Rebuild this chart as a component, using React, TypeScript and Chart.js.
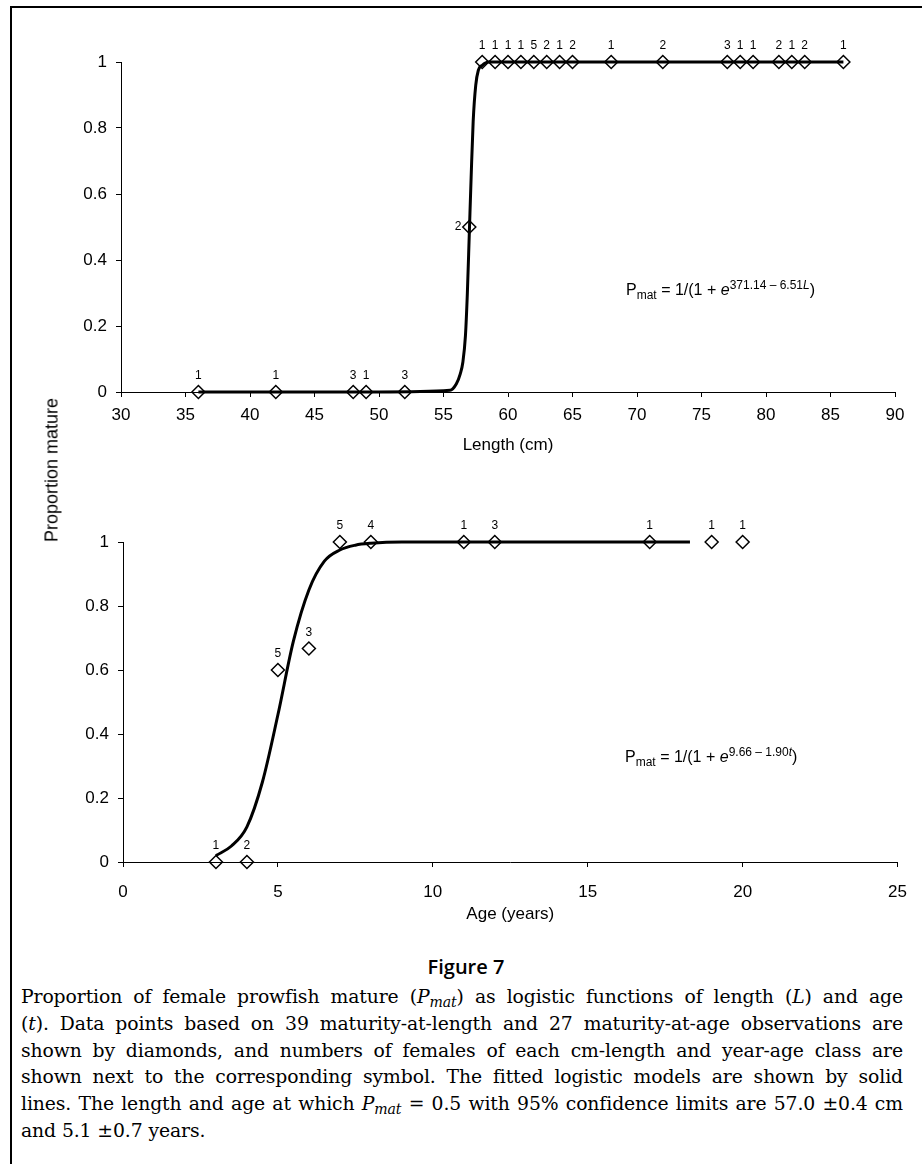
import React, { useEffect, useRef } from "react";
import { Chart, registerables } from "chart.js";

Chart.register(...registerables);

// ---------- Data ----------
// Maturity-at-length observations (cm), proportion mature, number of females
const lengthObsX = [36, 42, 48, 49, 52, 57, 58, 59, 60, 61, 62, 63, 64, 65, 68, 72, 77, 78, 79, 81, 82, 83, 86];
const lengthObsY = [0, 0, 0, 0, 0, 0.5, 1, 1, 1, 1, 1, 1, 1, 1, 1, 1, 1, 1, 1, 1, 1, 1, 1];
const lengthObsN = [1, 1, 3, 1, 3, 2, 1, 1, 1, 1, 5, 2, 1, 2, 1, 2, 3, 1, 1, 2, 1, 2, 1];
// Label side for each length observation ("top" or "left")
const lengthLabelSide = ["top", "top", "top", "top", "top", "left", "top", "top", "top", "top", "top", "top", "top", "top", "top", "top", "top", "top", "top", "top", "top", "top", "top"];

// Fitted logistic curve vs length
const lengthCurveX = [36, 50, 55.5, 56, 56.3, 56.5, 56.7, 56.85, 57, 57.15, 57.3, 57.5, 57.7, 58, 58.5, 86];
const lengthCurveY = [0, 0, 0.005, 0.025, 0.055, 0.09, 0.17, 0.3, 0.48, 0.66, 0.82, 0.93, 0.975, 0.99, 1, 1];

// Maturity-at-age observations (years)
const ageObsX = [3, 4, 5, 6, 7, 8, 11, 12, 17, 19, 20];
const ageObsY = [0, 0, 0.6, 0.667, 1, 1, 1, 1, 1, 1, 1];
const ageObsN = [1, 2, 5, 3, 5, 4, 1, 3, 1, 1, 1];
const ageLabelSide = ["top", "top", "top", "top", "top", "top", "top", "top", "top", "top", "top"];

// Fitted logistic curve vs age
const ageCurveX = [3, 3.5, 4, 4.5, 5, 5.5, 6, 6.5, 7, 7.5, 8, 9, 18.3];
const ageCurveY = [0.02, 0.05, 0.11, 0.25, 0.46, 0.69, 0.85, 0.94, 0.975, 0.99, 0.996, 1, 1];

// Axis settings
const lengthTicks = { min: 30, max: 90, step: 5 };
const ageTicks = { min: 0, max: 25, step: 5 };
const propTicks = { min: 0, max: 1, step: 0.2 };

const captionLines = [
  "Proportion of female prowfish mature (|P_mat|) as logistic functions of length (|L|) and age",
  "(|t|). Data points based on 39 maturity-at-length and 27 maturity-at-age observations are",
  "shown by diamonds, and numbers of females of each cm-length and year-age class are",
  "shown next to the corresponding symbol. The fitted logistic models are shown by solid",
  "lines. The length and age at which |P_mat| = 0.5 with 95% confidence limits are 57.0 ±0.4 cm",
  "and 5.1 ±0.7 years.",
];

const SANS = "'Liberation Sans', Arial, Helvetica, sans-serif";

const pointLabelPlugin = {
  id: "pointCountLabels",
  afterDatasetsDraw(chart: any) {
    const ctx = chart.ctx;
    chart.data.datasets.forEach((ds: any, i: number) => {
      if (!ds.countLabels) return;
      const meta = chart.getDatasetMeta(i);
      ctx.save();
      ctx.font = `12px ${SANS}`;
      ctx.fillStyle = "#000";
      ctx.textBaseline = "middle";
      meta.data.forEach((el: any, j: number) => {
        const side = ds.labelSide[j];
        if (side === "left") {
          ctx.textAlign = "right";
          ctx.fillText(String(ds.countLabels[j]), el.x - 8, el.y);
        } else {
          ctx.textAlign = "center";
          ctx.fillText(String(ds.countLabels[j]), el.x, el.y - 16);
        }
      });
      ctx.restore();
    });
  },
};

type Cfg = {
  curveX: number[];
  curveY: number[];
  obsX: number[];
  obsY: number[];
  obsN: number[];
  side: string[];
  xr: { min: number; max: number; step: number };
  xTitle: string;
  yWidth: number;
  xHeight: number;
  padding: { top: number; left: number; right: number; bottom: number };
  xTickPad: number;
};

function makeConfig(c: Cfg): any {
  const tickFont = { family: SANS, size: 17 };
  return {
    type: "scatter",
    data: {
      datasets: [
        {
          data: c.curveX.map((x, i) => ({ x, y: c.curveY[i] })),
          showLine: true,
          borderColor: "#000",
          borderWidth: 3,
          pointRadius: 0,
          cubicInterpolationMode: "monotone",
          clip: false,
        },
        {
          data: c.obsX.map((x, i) => ({ x, y: c.obsY[i] })),
          showLine: false,
          pointStyle: "rectRot",
          pointRadius: 6.5,
          pointBorderWidth: 1.5,
          pointBorderColor: "#000",
          pointBackgroundColor: "rgba(0,0,0,0)",
          clip: false,
          countLabels: c.obsN,
          labelSide: c.side,
        },
      ],
    },
    options: {
      responsive: false,
      animation: false,
      events: [],
      layout: { padding: c.padding },
      plugins: { legend: { display: false }, tooltip: { enabled: false }, title: { display: false } },
      scales: {
        x: {
          type: "linear",
          min: c.xr.min,
          max: c.xr.max,
          ticks: { stepSize: c.xr.step, font: tickFont, color: "#000", padding: c.xTickPad, maxRotation: 0 },
          grid: { display: true, drawOnChartArea: false, drawTicks: true, tickLength: 5, color: "#000", lineWidth: 1 },
          border: { display: true, color: "#000", width: 1 },
          title: { display: true, text: c.xTitle, font: { family: SANS, size: 17 }, color: "#000", padding: 0 },
          afterFit: (s: any) => {
            s.height = c.xHeight;
          },
        },
        y: {
          type: "linear",
          min: propTicks.min,
          max: propTicks.max,
          ticks: {
            stepSize: propTicks.step,
            font: tickFont,
            color: "#000",
            padding: 9,
            callback: (v: number) => String(Math.round(v * 10) / 10),
          },
          grid: { display: true, drawOnChartArea: false, drawTicks: true, tickLength: 5, color: "#000", lineWidth: 1 },
          border: { display: true, color: "#000", width: 1 },
          afterFit: (s: any) => {
            s.width = c.yWidth;
          },
        },
      },
    },
    plugins: [pointLabelPlugin],
  };
}

function ChartCanvas({ cfg, width, height, top }: { cfg: Cfg; width: number; height: number; top: number }) {
  const ref = useRef<HTMLCanvasElement | null>(null);
  useEffect(() => {
    if (!ref.current) return;
    const chart = new Chart(ref.current, makeConfig(cfg));
    return () => chart.destroy();
  }, []);
  return (
    <canvas
      ref={ref}
      width={width}
      height={height}
      style={{ position: "absolute", left: 0, top, width, height, display: "block" }}
    />
  );
}

function Equation({ left, top, exponent, variable }: { left: number; top: number; exponent: string; variable: string }) {
  return (
    <div
      style={{
        position: "absolute",
        left,
        top,
        fontFamily: SANS,
        fontSize: 16,
        lineHeight: "20px",
        whiteSpace: "nowrap",
        color: "#000",
      }}
    >
      P<span style={{ fontSize: 12, position: "relative", top: 4 }}>mat</span> = 1/(1 + <i>e</i>
      <span style={{ fontSize: 12, position: "relative", top: -6 }}>
        {exponent}
        <i>{variable}</i>
      </span>
      )
    </div>
  );
}

function renderCaptionLine(line: string) {
  const parts = line.split("|");
  return parts.map((p, i) => {
    if (i % 2 === 0) return <React.Fragment key={i}>{p}</React.Fragment>;
    if (p === "P_mat")
      return (
        <i key={i}>
          P<span style={{ fontSize: "0.75em", position: "relative", top: "0.3em" }}>mat</span>
        </i>
      );
    return <i key={i}>{p}</i>;
  });
}

export default function App() {
  const topCfg: Cfg = {
    curveX: lengthCurveX,
    curveY: lengthCurveY,
    obsX: lengthObsX,
    obsY: lengthObsY,
    obsN: lengthObsN,
    side: lengthLabelSide,
    xr: lengthTicks,
    xTitle: "Length (cm)",
    yWidth: 121,
    xHeight: 64,
    padding: { top: 62, left: 0, right: 27, bottom: 14 },
    xTickPad: 8,
  };
  const botCfg: Cfg = {
    curveX: ageCurveX,
    curveY: ageCurveY,
    obsX: ageObsX,
    obsY: ageObsY,
    obsN: ageObsN,
    side: ageLabelSide,
    xr: ageTicks,
    xTitle: "Age (years)",
    yWidth: 123,
    xHeight: 63,
    padding: { top: 72, left: 0, right: 24, bottom: 15 },
    xTickPad: 15,
  };

  return (
    <div
      style={{
        position: "absolute",
        left: 0,
        top: 0,
        width: 922,
        height: 1164,
        overflow: "hidden",
        background: "#fff",
      }}
    >
      <div
        style={{
          position: "absolute",
          left: 10,
          top: 6,
          width: 950,
          height: 1200,
          borderTop: "2px solid #000",
          borderLeft: "2px solid #000",
          boxSizing: "border-box",
        }}
      />
      <ChartCanvas cfg={topCfg} width={922} height={470} top={0} />
      <ChartCanvas cfg={botCfg} width={922} height={470} top={470} />
      <div
        style={{
          position: "absolute",
          left: 52,
          top: 470,
          transform: "translate(-50%, -50%) rotate(-90deg)",
          fontFamily: SANS,
          fontSize: 18,
          whiteSpace: "nowrap",
          color: "#000",
        }}
      >
        Proportion mature
      </div>
      <Equation left={626} top={280} exponent={"371.14 \u2013 6.51"} variable="L" />
      <Equation left={625} top={747} exponent={"9.66 \u2013 1.90"} variable="t" />
      <div
        style={{
          position: "absolute",
          left: 10,
          width: 912,
          top: 953,
          textAlign: "center",
          fontFamily: "'Open Sans', 'DejaVu Sans', sans-serif",
          fontWeight: 600,
          fontSize: 20,
          lineHeight: "28px",
          color: "#000",
        }}
      >
        Figure 7
      </div>
      <div
        style={{
          position: "absolute",
          left: 21,
          width: 882,
          top: 984,
          fontFamily: "'DejaVu Serif', 'Liberation Serif', serif",
          fontSize: 18.8,
          letterSpacing: "-0.1px",
          lineHeight: "26.8px",
          color: "#000",
        }}
      >
        {captionLines.map((line, i) => (
          <div
            key={i}
            style={{
              whiteSpace: "nowrap",
              textAlign: i < captionLines.length - 1 ? "justify" : "left",
              textAlignLast: i < captionLines.length - 1 ? "justify" : "left",
              height: 26.8,
            }}
          >
            {renderCaptionLine(line)}
          </div>
        ))}
      </div>
    </div>
  );
}
